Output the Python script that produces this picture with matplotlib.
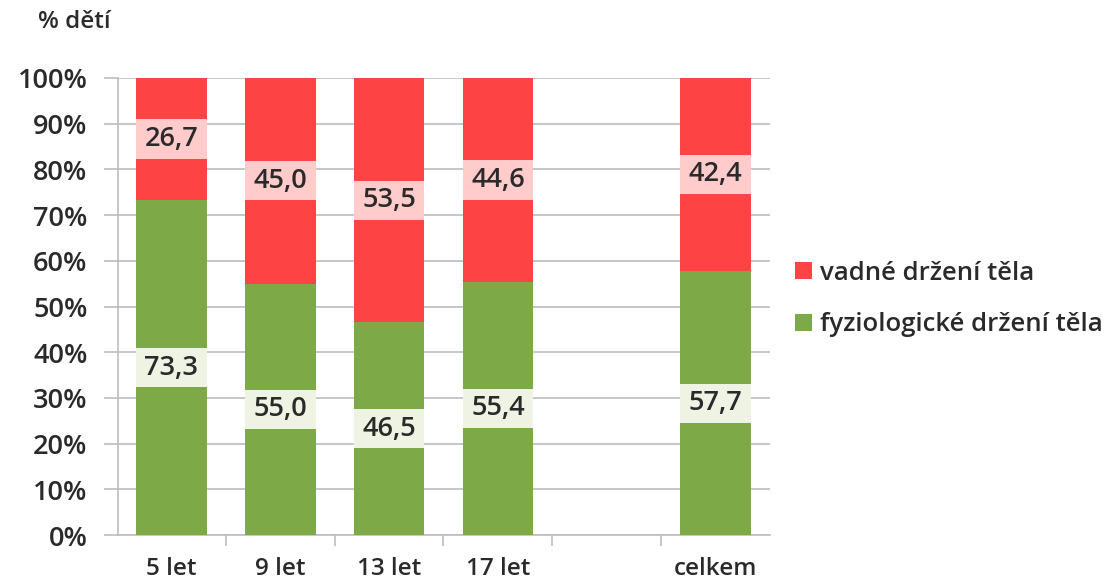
import matplotlib
matplotlib.use("Agg")
import matplotlib.pyplot as plt
import numpy as np

categories = ["5 let", "9 let", "13 let", "17 let", "", "celkem"]
fyziologicke = [73.3, 55.0, 46.5, 55.4, None, 57.7]
vadne = [26.7, 45.0, 53.5, 44.6, None, 42.4]
fyz_labels = ["73,3", "55,0", "46,5", "55,4", None, "57,7"]
vad_labels = ["26,7", "45,0", "53,5", "44,6", None, "42,4"]
yticks = [0, 10, 20, 30, 40, 50, 60, 70, 80, 90, 100]
ytick_labels = ["0%", "10%", "20%", "30%", "40%", "50%", "60%", "70%", "80%", "90%", "100%"]

RED = "#FD4343"
GREEN = "#7DAA47"
GRID = "#BDBDBD"
TXT = "#2a2a2a"

plt.rcParams["font.family"] = ["Open Sans", "DejaVu Sans"]
plt.rcParams["font.weight"] = 600

fig = plt.figure(figsize=(11.06, 5.82), dpi=100)
ax = fig.add_axes([118/1106, 1 - 535/582, (770-118)/1106, (535-78)/582])

x = np.arange(len(categories))
w = 0.65
box_h = 8.6
for i in range(len(categories)):
    if fyziologicke[i] is None:
        continue
    g, r = fyziologicke[i], vadne[i]
    ax.bar(x[i], g, width=w, color=GREEN, zorder=3, label="fyziologické držení těla" if i == 0 else None)
    ax.bar(x[i], r, bottom=g, width=w, color=RED, zorder=3, label="vadné držení těla" if i == 0 else None)
    gc = g / 2
    rc = g + r / 2
    ax.bar(x[i], box_h, bottom=gc - box_h / 2, width=w, color="#EEF3E4", zorder=4)
    ax.bar(x[i], box_h, bottom=rc - box_h / 2, width=w, color="#FFCBCB", zorder=4)
    ax.text(x[i], gc, fyz_labels[i], ha="center", va="center", fontsize=19.5, color=TXT, zorder=5)
    ax.text(x[i], rc, vad_labels[i], ha="center", va="center", fontsize=19.5, color=TXT, zorder=5)

ax.set_xlim(-0.49, 5.5)
ax.set_ylim(0, 100)
ax.set_yticks(yticks)
ax.set_yticklabels(ytick_labels, fontsize=19.5, color=TXT)
ax.yaxis.grid(True, color=GRID, linewidth=1.2, zorder=0)
ax.set_axisbelow(True)

ax.set_xticks(x)
ax.set_xticklabels(categories, fontsize=17.5, color=TXT)
ax.set_xticks(np.arange(-0.5, 5.5, 1.0)[1:], minor=True)
ax.tick_params(axis="x", which="major", length=0, pad=16)
ax.tick_params(axis="x", which="minor", length=8, color=GRID, width=1.2, direction="out")
ax.tick_params(axis="y", length=10, color=GRID, width=1.2, pad=12)

for s in ["top", "right"]:
    ax.spines[s].set_visible(False)
for s in ["left", "bottom"]:
    ax.spines[s].set_color(GRID)
    ax.spines[s].set_linewidth(1.2)

handles, labels = ax.get_legend_handles_labels()
order = [1, 0]
leg = fig.legend([handles[o] for o in order], [labels[o] for o in order],
                 loc="center left", bbox_to_anchor=(772/1106, 1 - 299/582),
                 frameon=False, fontsize=18.5, handlelength=0.65, handleheight=0.65,
                 handletextpad=0.3, labelspacing=1.05, labelcolor=TXT)

fig.text(38/1106, 1 - 22/582, "% dětí", fontsize=17.5, color=TXT, va="center", ha="left")

fig.savefig("out.png", dpi=100)
